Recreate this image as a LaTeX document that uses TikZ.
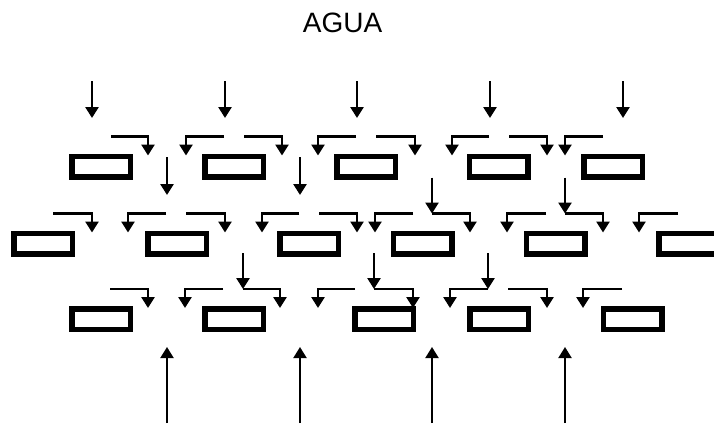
\documentclass[tikz,border=0pt]{standalone}
\usepackage{fontspec}
\newfontfamily\titlefont{Liberation Sans}
\usetikzlibrary{arrows.meta,calc}
\tikzset{
  cellbox/.style={draw, line width=5.5pt, minimum width=58.5pt, minimum height=20.5pt,
                  inner sep=0pt, outer sep=2.75pt},
  qarr/.style={-{Triangle[length=11pt,width=13pt]}, line width=2.6pt},
  titletext/.style={font=\titlefont\fontsize{28}{32}\selectfont},
}
% branch arrow above a box: node, start offset, end offset, name of start
\newcommand{\splitarr}[4]{%
  \coordinate (#4) at ($(#1.north)+(#2,-17)$);
  \draw[qarr] (#4) -| ($(#1.north)+(#3,2)$);}

\begin{document}
\begin{tikzpicture}[x=1pt, y=-1pt]
    \useasboundingbox (0,0) rectangle (714,429);
    \node[titletext] (agua) at (342.5,22.5) {AGUA};
    % boxes
    \node[cellbox] (b11) at (101,166.5) {};
    \node[cellbox] (b12) at (234,166.5) {};
    \node[cellbox] (b13) at (366,166.5) {};
    \node[cellbox] (b14) at (498.5,166.5) {};
    \node[cellbox] (b15) at (613,166.5) {};
    \node[cellbox] (b21) at (43,243.5) {};
    \node[cellbox] (b22) at (177,243.5) {};
    \node[cellbox] (b23) at (309,243.5) {};
    \node[cellbox] (b24) at (422.5,243.5) {};
    \node[cellbox] (b25) at (555.5,243.5) {};
    \node[cellbox] (b26) at (688,243.5) {};
    \node[cellbox] (b31) at (101,319) {};
    \node[cellbox] (b32) at (234,319) {};
    \node[cellbox] (b33) at (384,319) {};
    \node[cellbox] (b34) at (499,319) {};
    \node[cellbox] (b35) at (632.5,319) {};
    % branches
    \splitarr{b11}{10}{47}{s11r}
    \splitarr{b12}{-10}{-48}{s12l}
    \splitarr{b12}{10}{48}{s12r}
    \splitarr{b13}{-10}{-48}{s13l}
    \splitarr{b13}{10}{49}{s13r}
    \splitarr{b14}{-9.5}{-46.5}{s14l}
    \splitarr{b14}{10.5}{48.5}{s14r}
    \splitarr{b15}{-10}{-48}{s15l}
    \splitarr{b21}{10}{49}{s21r}
    \splitarr{b22}{-11}{-49}{s22l}
    \splitarr{b22}{9}{48}{s22r}
    \splitarr{b23}{-10}{-47}{s23l}
    \splitarr{b23}{10}{48}{s23r}
    \splitarr{b24}{-9.5}{-47.5}{s24l}
    \splitarr{b24}{9.5}{47.5}{s24r}
    \splitarr{b25}{-9.5}{-48.5}{s25l}
    \splitarr{b25}{9.5}{47.5}{s25r}
    \splitarr{b26}{-10}{-49}{s26l}
    \splitarr{b31}{9}{47}{s31r}
    \splitarr{b32}{-11}{-49}{s32l}
    \splitarr{b32}{9}{46}{s32r}
    \splitarr{b33}{-29}{-66}{s33l}
    \splitarr{b33}{-10}{29}{s33r}
    \splitarr{b34}{-11}{-49}{s34l}
    \splitarr{b34}{9}{48}{s34r}
    \splitarr{b35}{-10.5}{-49.5}{s35l}
    % water coming in
    \coordinate (t1) at (92,81);
    \coordinate (t2) at (225,81);
    \coordinate (t3) at (357,81);
    \coordinate (t4) at (490,81);
    \coordinate (t5) at (623,81);
    \draw[qarr] (t1) -- ++(0,37);
    \draw[qarr] (t2) -- ++(0,37);
    \draw[qarr] (t3) -- ++(0,37);
    \draw[qarr] (t4) -- ++(0,37);
    \draw[qarr] (t5) -- ++(0,37);
    % between rows
    \coordinate (m1) at (167,157);
    \coordinate (m2) at (300,157);
    \draw[qarr] (m1) -- ++(0,38);
    \draw[qarr] (m2) -- ++(0,38);
    \draw[qarr] ($(s24r)+(0,-36)$) -- (s24r);
    \draw[qarr] ($(s25r)+(0,-36)$) -- (s25r);
    \draw[qarr] ($(s32r)+(0,-36)$) -- (s32r);
    \draw[qarr] ($(s33r)+(0,-36)$) -- (s33r);
    \draw[qarr] ($(s34l)+(0,-36)$) -- (s34l);
    % coming up from below
    \coordinate (u1) at (167,423);
    \coordinate (u2) at (300,423);
    \coordinate (u3) at (432,423);
    \coordinate (u4) at (565,423);
    \draw[qarr, line width=2pt] (u1) -- ++(0,-76);
    \draw[qarr, line width=2pt] (u2) -- ++(0,-76);
    \draw[qarr, line width=2pt] (u3) -- ++(0,-76);
    \draw[qarr, line width=2pt] (u4) -- ++(0,-76);
  \end{tikzpicture}
\end{document}
